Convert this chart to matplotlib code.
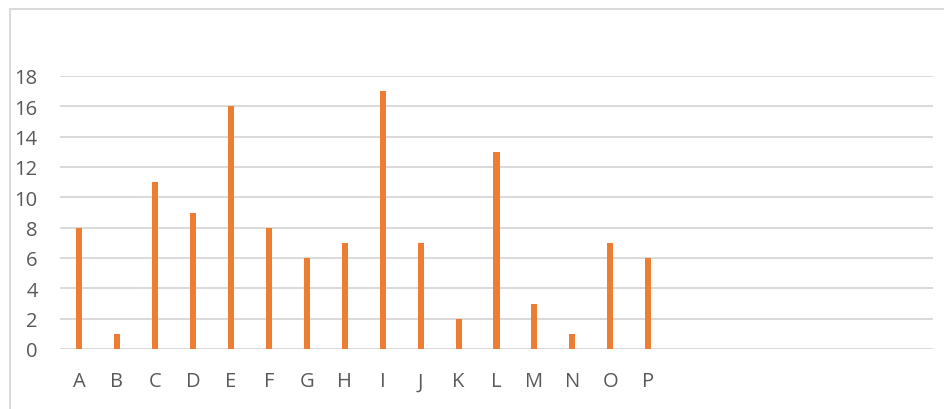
import matplotlib.pyplot as plt
from matplotlib.lines import Line2D

# 分类与数值
categories = ["A", "B", "C", "D", "E", "F", "G", "H", "I", "J", "K", "L", "M", "N", "O", "P"]
values = [8, 1, 11, 9, 16, 8, 6, 7, 17, 7, 2, 13, 3, 1, 7, 6]
n_slots = 23  # 横轴共 23 个位置，后面的为空
y_ticks = [0, 2, 4, 6, 8, 10, 12, 14, 16, 18]

bar_color = "#ED7D31"
grid_color = "#D9D9D9"
text_color = "#595959"

plt.rcParams["font.family"] = ["Open Sans", "DejaVu Sans"]

fig = plt.figure(figsize=(9.44, 4.10), dpi=100)
W, H = 944, 410
ax = fig.add_axes([60 / W, 60 / H, (933 - 60) / W, (350 - 77) / H])

x = list(range(len(categories)))
ax.bar(x, values, width=0.16, color=bar_color, zorder=3)

ax.set_xlim(-0.5, n_slots - 0.5)
ax.set_ylim(0, 18)
ax.set_xticks(x)
ax.set_xticklabels(categories)
ax.set_yticks(y_ticks)

ax.grid(axis="y", color=grid_color, linewidth=1.4, zorder=0)
for s in ax.spines.values():
    s.set_visible(False)
ax.tick_params(axis="both", length=0, labelsize=14.5, colors=text_color)
ax.tick_params(axis="y", pad=16)
ax.tick_params(axis="x", pad=16)

# 图表外框（左、上）
fig.add_artist(Line2D([10 / W, 10 / W], [0, 1 - 10 / H], color=grid_color, linewidth=1.4))
fig.add_artist(Line2D([10 / W, 1], [1 - 10 / H, 1 - 10 / H], color=grid_color, linewidth=1.4))

fig.savefig("out.png", dpi=100)
